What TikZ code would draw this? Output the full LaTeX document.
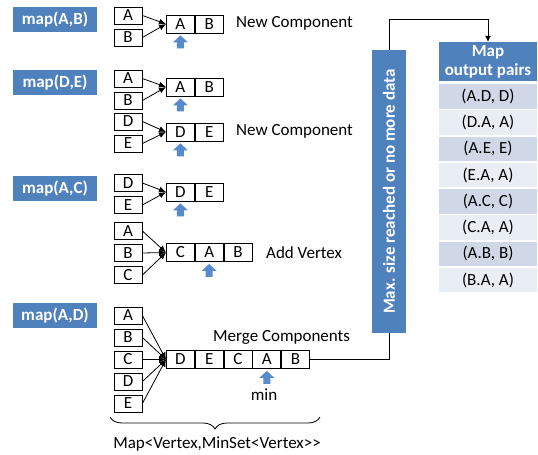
\documentclass[tikz,border=0pt]{standalone}
\usepackage{fontspec}
\setmainfont{Carlito}
\usetikzlibrary{arrows.meta,decorations.pathreplacing,calc}
\definecolor{barblue}{RGB}{79,129,189}
\definecolor{tipblue}{RGB}{88,139,206}
\definecolor{rowdark}{RGB}{208,216,232}
\definecolor{rowlight}{RGB}{233,237,244}
\begin{document}
\begin{tikzpicture}[x=1pt,y=-1pt,
  every node/.style={font=\fontsize{17}{19}\selectfont},
  tag/.style={fill=barblue,text=white,font=\fontsize{17}{19}\selectfont\bfseries,
    minimum width=84pt,minimum height=25pt,inner sep=0pt},
  vbox/.style={draw,line width=0.8pt,minimum width=28pt,minimum height=17pt,inner sep=0pt},
  cell/.style={draw,line width=0.8pt,minimum width=28pt,minimum height=18pt,inner sep=0pt,anchor=west},
  conn/.style={line width=0.8pt,-{Latex[length=7pt,width=6pt]}},
  note/.style={anchor=west,inner sep=0pt},
  minmark/.pic={\fill[tipblue] (0,0) -- (7.5,7) -- (3.5,7) -- (3.5,13) -- (-3.5,13)
     -- (-3.5,7) -- (-7.5,7) -- cycle;},
  row/.style={minimum width=98pt,minimum height=24.5pt,inner sep=0pt}
]
\useasboundingbox (0,0) rectangle (538,455);

% ---- step labels
\node[tag] (m1) at (55,19.5) {map(A,B)};
\node[tag] (m2) at (55,82.5) {map(D,E)};
\node[tag] (m3) at (55,188.5) {map(A,C)};
\node[tag] (m4) at (55,315.5) {map(A,D)};

% ---- step 1
\node[vbox] (a1) at (128,15.5) {A};
\node[vbox] (b1) at (128,37.5) {B};
\node[cell] (c1a) at (166,24) {A};
\node[cell] (c1b) at (c1a.east) {B};
\draw[conn] (a1.east) -- (c1a.west);
\draw[conn] (b1.east) -- (c1a.west);
\pic at ($(c1a.south)+(0,2)$) {minmark};
\node[note] (n1) at (236,23) {New Component};

% ---- step 2
\node[vbox] (a2) at (128,78.5) {A};
\node[vbox] (b2) at (128,100.5) {B};
\node[cell] (c2a) at (166,87) {A};
\node[cell] (c2b) at (c2a.east) {B};
\draw[conn] (a2.east) -- (c2a.west);
\draw[conn] (b2.east) -- (c2a.west);
\pic at ($(c2a.south)+(0,2)$) {minmark};
\node[vbox] (d2) at (128,121.5) {D};
\node[vbox] (e2) at (128,143.5) {E};
\node[cell] (c2d) at (166,132) {D};
\node[cell] (c2e) at (c2d.east) {E};
\draw[conn] (d2.east) -- (c2d.west);
\draw[conn] (e2.east) -- (c2d.west);
\pic at ($(c2d.south)+(0,2)$) {minmark};
\node[note] (n2) at (236,131) {New Component};

% ---- step 3
\node[vbox] (d3) at (128,183) {D};
\node[vbox] (e3) at (128,205) {E};
\node[cell] (c3d) at (166,192) {D};
\node[cell] (c3e) at (c3d.east) {E};
\draw[conn] (d3.east) -- (c3d.west);
\draw[conn] (e3.east) -- (c3d.west);
\pic at ($(c3d.south)+(0,2)$) {minmark};
\node[vbox] (a3) at (128,231) {A};
\node[vbox] (b3) at (128,253) {B};
\node[vbox] (x3) at (128,275) {C};
\node[cell] (c3c) at (166,252.5) {C};
\node[cell] (c3a) at (c3c.east) {A};
\node[cell] (c3b) at (c3a.east) {B};
\draw[conn] (a3.east) -- (c3c.west);
\draw[conn] (b3.east) -- (c3c.west);
\draw[conn] (x3.east) -- (c3c.west);
\pic at ($(c3a.south)+(0,2)$) {minmark};
\node[note] (n3) at (266,253) {Add Vertex};

% ---- step 4
\node[vbox] (a4) at (128,315.5) {A};
\node[vbox] (b4) at (128,337.5) {B};
\node[vbox] (x4) at (128,359.5) {C};
\node[vbox] (d4) at (128,381.5) {D};
\node[vbox] (e4) at (128,403.5) {E};
\node[cell] (c4d) at (166,359.5) {D};
\node[cell] (c4e) at (c4d.east) {E};
\node[cell] (c4c) at (c4e.east) {C};
\node[cell] (c4a) at (c4c.east) {A};
\node[cell] (c4b) at (c4a.east) {B};
\foreach \s in {a4,b4,x4,d4,e4}
  \draw[conn] (\s.east) -- (c4d.west);
\pic at ($(c4a.south)+(0,2)$) {minmark};
\node[note] (n4) at (213,337) {Merge Components};
\node (mn) at (264,395) {min};

% ---- brace with the map type
\draw[line width=0.8pt,decorate,decoration={brace,mirror,amplitude=12pt}]
  (110,417) -- (320,417);
\node (mt) at (217,444) {Map<Vertex,MinSet<Vertex>{}\kern0pt>};

% ---- flush condition bar
\node[fill=barblue,text=white,font=\fontsize{17}{19}\selectfont\bfseries,
  rotate=90,minimum width=283pt,minimum height=34pt,inner sep=0pt]
  (bar) at (389,191.5) {Max. size reached or no more data};

% ---- output table
\node[fill=barblue,text=white,font=\fontsize{17}{19}\selectfont\bfseries,
  align=center,minimum width=98pt,minimum height=39pt,inner sep=0pt]
  (hdr) at (488,61.5) {Map\\output pairs};
\node[row,fill=rowdark]  (r1) at (488,96.25)  {(A.D, D)};
\node[row,fill=rowlight] (r2) at (488,122.5)  {(D.A, A)};
\node[row,fill=rowdark]  (r3) at (488,148.75) {(A.E, E)};
\node[row,fill=rowlight] (r4) at (488,175)    {(E.A, A)};
\node[row,fill=rowdark]  (r5) at (488,201.25) {(A.C, C)};
\node[row,fill=rowlight] (r6) at (488,227.5)  {(C.A, A)};
\node[row,fill=rowdark]  (r7) at (488,253.75) {(A.B, B)};
\node[row,fill=rowlight] (r8) at (488,280)    {(B.A, A)};

% ---- flow connectors
\coordinate (top) at (0,19);
\draw[line width=0.8pt] (c4b.east) -| (bar.west);
\draw[line width=0.8pt,-{Latex[length=6pt,width=6pt]}]
  (bar.east) -- (bar.east |- top) -| (hdr.north);
\end{tikzpicture}
\end{document}
